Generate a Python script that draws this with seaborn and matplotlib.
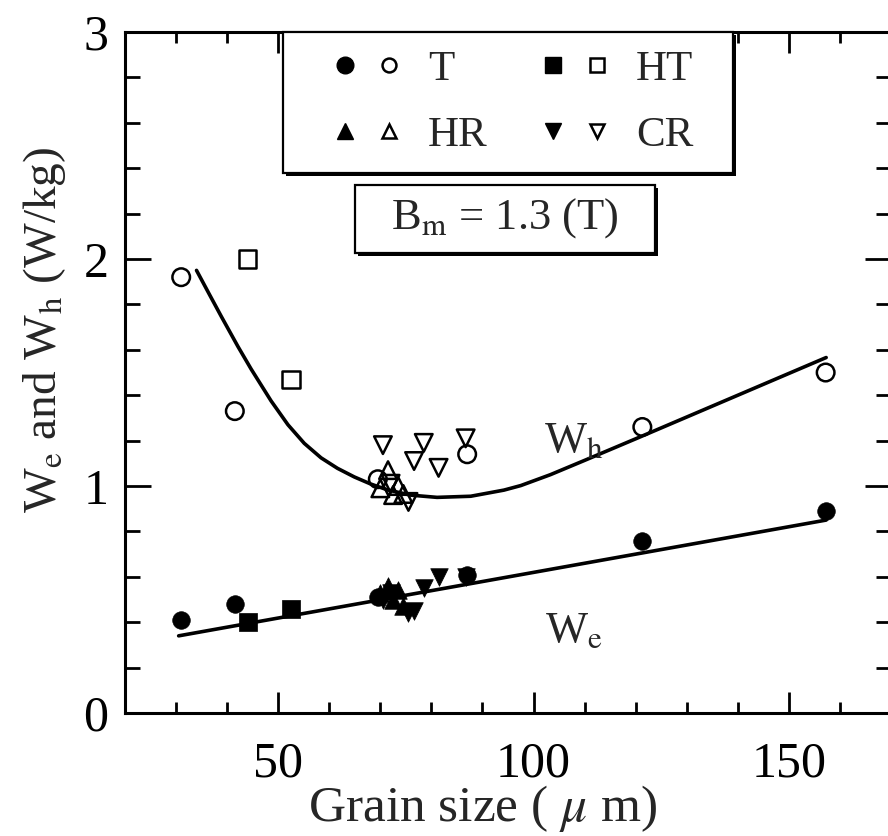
import matplotlib
matplotlib.use("Agg")
import matplotlib.pyplot as plt
import matplotlib.patheffects as pe
from matplotlib.patches import Rectangle
from matplotlib.lines import Line2D
from matplotlib.legend_handler import HandlerTuple
from matplotlib.ticker import MultipleLocator
import seaborn as sns

# values: grain size (um), W_h and W_e (W/kg)
t_size = [31, 41.5, 69.5, 87, 121.3, 157.2]
t_wh = [1.92, 1.33, 1.03, 1.14, 1.26, 1.50]
t_we = [0.41, 0.48, 0.51, 0.61, 0.76, 0.89]

ht_size = [44, 52.5]
ht_wh = [2.00, 1.47]
ht_we = [0.40, 0.46]

hr_size = [70, 71.5, 72.5, 73.5, 74.5]
hr_wh = [0.99, 1.07, 0.96, 1.00, 0.965]
hr_we = [0.53, 0.56, 0.50, 0.54, 0.47]

cr_size = [70.5, 72, 75.5, 76.6, 78.5, 81.4, 86.7]
cr_wh = [1.18, 1.01, 0.93, 1.11, 1.19, 1.08, 1.21]
cr_we = [0.50, 0.53, 0.44, 0.45, 0.55, 0.60, 0.60]

# fitted curves as drawn in the figure
wh_fit_x = [34.0, 36.5, 38.9, 42.1, 44.7, 48.6, 51.9, 55.1, 58.4, 61.6, 64.9, 68.1,
            71.4, 75.9, 81.1, 87.7, 94.2, 97.5, 103.3, 110, 120, 130, 140, 150, 157.3]
wh_fit_y = [1.95, 1.845, 1.745, 1.615, 1.515, 1.375, 1.27, 1.188, 1.124, 1.078, 1.040, 1.009,
            0.983, 0.960, 0.950, 0.955, 0.982, 1.002, 1.05, 1.113, 1.208, 1.304, 1.40, 1.496, 1.566]
we_fit_x = [30.5, 157.3]
we_fit_y = [0.34, 0.85]

series = [
    ("T", "o", t_size, t_wh, t_we),
    ("HT", "s", ht_size, ht_wh, ht_we),
    ("HR", "^", hr_size, hr_wh, hr_we),
    ("CR", "v", cr_size, cr_wh, cr_we),
]

sns.set_style("ticks")
plt.rcParams["font.family"] = ["Liberation Serif", "DejaVu Serif"]
plt.rcParams["mathtext.fontset"] = "stix"

fig = plt.figure(figsize=(8.88, 8.36), dpi=100)
ax = fig.add_axes([0.1408, 0.1471, 0.8626, 0.8146])

# curves
sns.lineplot(x=wh_fit_x, y=wh_fit_y, sort=False, color="black", lw=2.6, ax=ax)
sns.lineplot(x=we_fit_x, y=we_fit_y, sort=False, color="black", lw=2.6, ax=ax)

# points: open = W_h, filled = W_e
for name, mk, xs, wh, we in series:
    sns.scatterplot(x=xs, y=wh, marker=mk, s=160, facecolor="none",
                    edgecolor="black", linewidth=1.8, ax=ax, zorder=3)
    sns.scatterplot(x=xs, y=we, marker=mk, s=160, color="black",
                    edgecolor="black", linewidth=0.5, ax=ax, zorder=3)

ax.set_xlim(20, 170)
ax.set_ylim(0, 3)
ax.xaxis.set_major_locator(MultipleLocator(50))
ax.xaxis.set_minor_locator(MultipleLocator(10))
ax.yaxis.set_major_locator(MultipleLocator(1))
ax.yaxis.set_minor_locator(MultipleLocator(0.2))

ax.tick_params(which="both", direction="in", top=True, right=True, width=2,
               labelsize=36, colors="black")
ax.tick_params(axis="x", which="major", length=15, pad=20)
ax.tick_params(axis="x", which="minor", length=8)
ax.tick_params(axis="y", which="major", length=19, pad=12)
ax.tick_params(axis="y", which="minor", length=11)
for sp in ax.spines.values():
    sp.set_linewidth(2.2)
    sp.set_color("black")

ax.set_xlabel(r"Grain size ( $\mu$ m)", fontsize=37)
ax.xaxis.set_label_coords(0.467, -0.14)
ax.xaxis.label.set_verticalalignment("center")
ax.set_ylabel(r"W$_\mathrm{e}$ and W$_\mathrm{h}$ (W/kg)", fontsize=34)
ax.yaxis.set_label_coords(-0.105, 0.562)
ax.yaxis.label.set_verticalalignment("center")

ax.text(108, 1.20, r"W$_\mathrm{h}$", fontsize=32, ha="center", va="center")
ax.text(108, 0.36, r"W$_\mathrm{e}$", fontsize=32, ha="center", va="center")

shadow = [pe.withSimplePatchShadow(offset=(2.2, -2.2), shadow_rgbFace="black", alpha=1.0)]

# legend box
ax.add_patch(Rectangle((0.206, 0.793), 0.588, 0.207, transform=ax.transAxes,
                       facecolor="white", edgecolor="black", lw=1.6,
                       path_effects=shadow, zorder=5, clip_on=False))
handles = []
for name, mk, xs, wh, we in series:
    filled = Line2D([], [], marker=mk, ls="", color="black", ms=12)
    hollow = Line2D([], [], marker=mk, ls="", color="black", mfc="none", ms=10, mew=1.8)
    handles.append((filled, hollow))
labels = [s[0] for s in series]
order = [0, 2, 1, 3]
leg = ax.legend([handles[i] for i in order], [labels[i] for i in order], ncol=2,
                handler_map={tuple: HandlerTuple(ndivide=None, pad=0)},
                loc="center", bbox_to_anchor=(0.5, 0.8965), frameon=False,
                fontsize=31, numpoints=1, handlelength=2.05, handletextpad=0.4,
                columnspacing=1.0, labelspacing=0.62, borderpad=0)
leg.set_zorder(6)

# B_m box
ax.add_patch(Rectangle((0.300, 0.675), 0.392, 0.100, transform=ax.transAxes,
                       facecolor="white", edgecolor="black", lw=1.6,
                       path_effects=shadow, zorder=5, clip_on=False))
ax.text(0.496, 0.727, r"B$_\mathrm{m}$ = 1.3 (T)", transform=ax.transAxes,
        fontsize=32, ha="center", va="center", zorder=6)

fig.savefig("out.png", dpi=100)
